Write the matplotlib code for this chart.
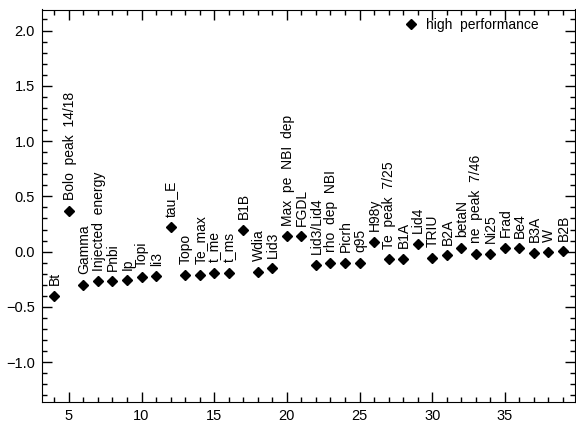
import matplotlib
matplotlib.use("Agg")
import matplotlib.pyplot as plt
from matplotlib.ticker import MultipleLocator

plt.rcParams['font.family'] = ['Liberation Sans', 'DejaVu Sans']

labels = ["Bt", "Bolo peak 14/18", "Gamma", "Injected energy", "Pnbi", "Ip", "Topi", "li3",
          "tau_E", "Topo", "Te_max", "t_me", "t_ms", "B1B", "Wdia", "Lid3",
          "Max pe NBI dep", "FGDL", "Lid3/Lid4", "rho dep NBI", "Picrh", "q95", "H98y",
          "Te peak 7/25", "B1A", "Lid4", "TRIU", "B2A", "betaN", "ne peak 7/46", "Ni25",
          "Frad", "Be4", "B3A", "W", "B2B"]
x_pos = list(range(4, 40))
values = [-0.40, 0.37, -0.30, -0.27, -0.27, -0.26, -0.23, -0.22,
          0.22, -0.21, -0.21, -0.19, -0.19, 0.20, -0.18, -0.15,
          0.14, 0.14, -0.12, -0.10, -0.10, -0.10, 0.09,
          -0.07, -0.065, 0.07, -0.055, -0.03, 0.035, -0.02, -0.02,
          0.035, 0.03, -0.01, -0.005, 0.005]
legend_label = "high  performance"

W, H = 576, 425
fig = plt.figure(figsize=(W / 100, H / 100), dpi=100)
ax = fig.add_axes([42 / W, (H - 402) / H, (575 - 42) / W, (402 - 9.5) / H])

ax.plot(x_pos, values, linestyle='none', marker='D', markersize=5,
        color='black', label=legend_label)

for xv, yv, lab in zip(x_pos, values, labels):
    ax.annotate(lab.replace(" ", "  "), xy=(xv, yv), xytext=(0.5, 7.5), textcoords='offset points',
                rotation=90, ha='center', va='bottom', fontsize=10, color='black')

ax.set_xlim(3.15, 39.83)
ax.set_ylim(-1.36, 2.19)
ax.xaxis.set_major_locator(MultipleLocator(5))
ax.xaxis.set_minor_locator(MultipleLocator(1))
ax.yaxis.set_major_locator(MultipleLocator(0.5))
ax.yaxis.set_minor_locator(MultipleLocator(0.1))
ax.tick_params(which='both', direction='in', top=True, right=True, labelsize=10.5,
               width=1, color='black')
ax.tick_params(which='major', length=7)
ax.tick_params(which='minor', length=3.5)
ax.tick_params(axis='x', pad=5)
ax.tick_params(axis='y', pad=5)
ax.set_yticks([-1.0, -0.5, 0.0, 0.5, 1.0, 1.5, 2.0])
ax.set_yticklabels(["\u22121.0", "\u22120.5", "0.0", "0.5", "1.0", "1.5", "2.0"])

leg = ax.legend(loc='upper left', bbox_to_anchor=((404 - 42) / 533, 1 - (18 - 9.5) / 392.5),
                frameon=False, handlelength=1.0, handletextpad=0.6, fontsize=10,
                borderaxespad=0, borderpad=0)

fig.savefig("out.png", dpi=100, facecolor='white')
